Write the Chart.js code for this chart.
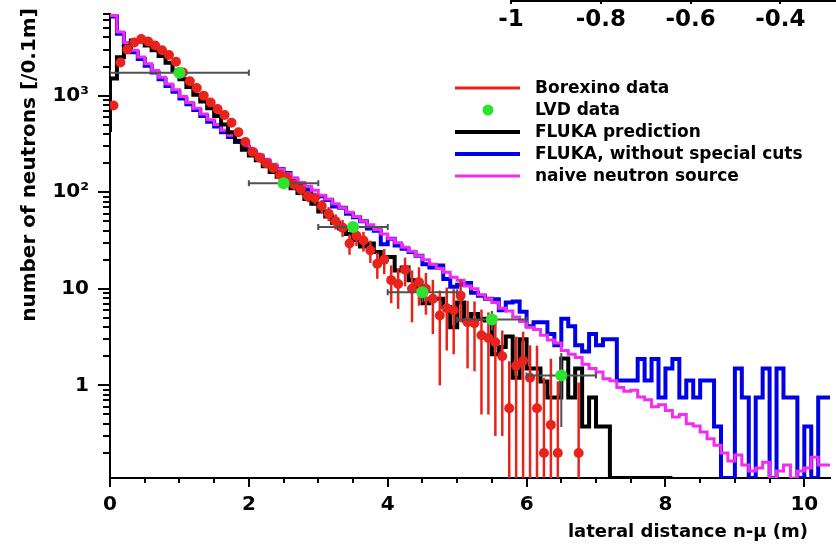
<!DOCTYPE html>
<html>
<head>
<meta charset="utf-8">
<script src="https://cdn.jsdelivr.net/npm/chart.js@4.4.0/dist/chart.umd.min.js"></script>
<style>
  html, body { margin: 0; padding: 0; background: #fff; }
  #wrap { position: relative; width: 836px; height: 546px; }
  #main, #top { position: absolute; left: 0; top: 0; }
</style>
</head>
<body>
<div id="wrap">
  <canvas id="main" width="836" height="546"></canvas>
  <canvas id="top" width="836" height="39"></canvas>
</div>
<script>
// histogram bins are 0.1 m wide, starting at 0
const binWidth = 0.1;

// FLUKA prediction (black), bins 0.0 .. 8.1
const flukaPrediction = [
  420, 1500, 2500, 3200, 3720, 3630, 3310, 2950, 2570, 2190,
  1820, 1480, 1230, 1020, 871, 741, 617, 501, 417, 339,
  275, 240, 214, 186, 162, 145, 126, 110, 98, 85,
  76, 63, 56, 48, 42, 37, 32, 27.5, 29.5, 24,
  21.4, 21.4, 15.5, 16.6, 12.3, 10.5, 7.1, 7.9, 7.9, 6.5,
  4.0, 7.2, 4.7, 5.5, 4.9, 4.7, 2.1, 2.5, 3.2, 1.2,
  3.0, 1.5, 1.5, 1.1, 0.75, 0.75, 1.9, 0.75, 1.5, 0.375,
  0.75, 0.375, 0.375, 0, 0, 0, 0, 0, 0, 0, 0
];

// FLUKA without special cuts (blue), bins 0.0 .. 10.4
const flukaNoCuts = [
  6310, 6610, 4365, 3390, 2820, 2400, 2040, 1740, 1480, 1260,
  1100, 933, 813, 708, 617, 537, 479, 417, 372, 331,
  295, 263, 234, 209, 186, 174, 158, 135, 123, 107,
  89, 91, 83, 71, 69, 60, 55, 50, 42, 40,
  29, 33, 28, 26, 24, 22, 18, 16.6, 17.4, 12.6,
  10.5, 11, 11.5, 9.1, 8.5, 7.9, 7.8, 6.0, 7.2, 7.4,
  5.8, 4.1, 4.5, 4.5, 3.4, 2.6, 4.9, 4.1, 2.6, 2.25,
  3.4, 2.6, 3.0, 3.0, 1.125, 1.125, 1.125, 1.875, 1.125, 1.875,
  0.75, 1.5, 1.875, 0.75, 1.125, 0.75, 1.125, 1.125, 0.375, 0,
  0, 1.5, 0.75, 0, 0.75, 1.5, 0, 1.5, 0.75, 0.75,
  0, 0.375, 0, 0.75
];

// naive neutron source (magenta), bins 0.0 .. 10.4
const naiveSource = [
  6600, 6760, 4570, 3550, 2950, 2510, 2140, 1820, 1550, 1320,
  1150, 977, 851, 741, 646, 562, 501, 437, 389, 347,
  309, 275, 245, 219, 195, 174, 155, 141, 126, 115,
  105, 93, 85, 76, 69, 62, 56, 50, 46, 41,
  37, 33, 30, 27, 24.5, 22, 20, 18, 16.2, 14.8,
  13.2, 12.3, 10.7, 10, 8.7, 7.9, 7.2, 6.3, 5.9, 5.1,
  4.6, 4.0, 3.8, 3.3, 2.95, 2.75, 2.3, 2.1, 1.95, 1.66,
  1.5, 1.38, 1.17, 1.12, 0.95, 0.87, 0.89, 0.76, 0.71, 0.6,
  0.63, 0.55, 0.47, 0.5, 0.4, 0.38, 0.33, 0.28, 0.24, 0.2,
  0.165, 0.19, 0.15, 0.13, 0.14, 0.16, 0, 0.13, 0.15, 0,
  0.13, 0.14, 0.18, 0.15
];

// Borexino data (red), one point per bin centre, 0.05 .. 6.75
const borexinoY = [
  790, 2200, 3000, 3550, 3850, 3630, 3300, 2950, 2630, 2240,
  1740, 1410, 1200, 1000, 850, 725, 630, 525, 417, 331,
  263, 229, 200, 178, 151, 141, 120, 107, 91, 87,
  72, 60, 50, 43, 29.5, 35.5, 31.6, 25, 18.2, 20,
  12.3, 11.2, 15.8, 10, 11.7, 10, 7.9, 5.3, 6.3, 6.0,
  8.5, 4.5, 4.4, 3.3, 3.1, 2.8, 2.0, 0.58, 1.6, 1.8,
  1.2, 0.58, 0.2, 0.39, 0.2, 0, 0, 0.2
];
const borexinoErr = [
  37, 61, 71, 77, 81, 78, 75, 71, 67, 62,
  54, 49, 45, 41, 38, 35, 32, 30, 26, 23,
  21, 20, 18, 17, 16, 15, 14, 13, 12, 12,
  11, 10, 9, 8.5, 7, 7.7, 7.3, 6.5, 5.5, 5.8,
  5.2, 5.0, 5.2, 5.5, 5.0, 4.6, 4.5, 4.3, 4.0, 3.9,
  4.0, 3.0, 3.0, 2.8, 2.6, 2.5, 1.7, 1.2, 1.6, 1.8,
  1.4, 2.0, 1.0, 1.5, 0.9, 0, 0, 0.87
];

// LVD data (green)
const lvdX = [1, 2.5, 3.5, 4.5, 5.5, 6.5];
const lvdY = [1730, 124, 43.7, 9.2, 4.8, 1.27];
const lvdXErr = [1, 0.5, 0.5, 0.5, 0.5, 0.5];
const lvdYErr = [60, 10, 4, 2, 1.1, 0.9];

// axes
const xTickValues = [0, 2, 4, 6, 8, 10];
const xTickLabels = ['0', '2', '4', '6', '8', '10'];
const yTickValues = [1, 10, 100, 1000];
const yTickLabels = ['1', '10', '10²', '10³'];
const topTickValues = [-1, -0.8, -0.6, -0.4];
const topTickLabels = ['-1', '-0.8', '-0.6', '-0.4'];

const X_MIN = 0, X_MAX = 10.37;
const Y_MIN = 0.11, Y_MAX = 7000;

const RED = '#e8231c';
const GREEN = '#2ee32e';
const BLUE = '#0000e8';
const MAGENTA = '#f22cf2';
const FONT = "'DejaVu Sans', sans-serif";

// empty bins are drawn on the bottom of the frame, like ROOT does
function histPoints(vals) {
  const pts = vals.map((v, i) => ({ x: i * binWidth, y: v > 0 ? v : Y_MIN }));
  pts.push({ x: vals.length * binWidth, y: pts[pts.length - 1].y });
  return pts;
}

const borexinoPts = [];
borexinoY.forEach((v, i) => {
  if (v > 0) borexinoPts.push({ x: binWidth * (i + 0.5), y: v });
});
const lvdPts = lvdX.map((x, i) => ({ x: x, y: lvdY[i] }));

const decor = {
  id: 'decor',
  beforeDatasetDraw(chart, args) {
    const ds = chart.data.datasets[args.index];
    const { ctx, chartArea: a } = chart;
    const xs = chart.scales.x, ys = chart.scales.y;
    ctx.save();
    ctx.beginPath();
    ctx.rect(a.left, a.top, a.right - a.left, a.bottom - a.top);
    ctx.clip();
    if (ds.label === 'Borexino data') {
      ctx.strokeStyle = RED;
      ctx.lineWidth = 2.5;
      borexinoY.forEach((v, i) => {
        if (!(v > 0)) return;
        const px = xs.getPixelForValue(binWidth * (i + 0.5));
        const lo = v - borexinoErr[i];
        const y1 = ys.getPixelForValue(v + borexinoErr[i]);
        const y2 = lo > 0 ? ys.getPixelForValue(lo) : a.bottom;
        ctx.beginPath();
        ctx.moveTo(px, y1);
        ctx.lineTo(px, y2);
        ctx.stroke();
      });
    }
    if (ds.label === 'LVD data') {
      ctx.strokeStyle = '#505050';
      ctx.lineWidth = 2;
      lvdX.forEach((xv, i) => {
        const px = xs.getPixelForValue(xv);
        const py = ys.getPixelForValue(lvdY[i]);
        const x1 = xs.getPixelForValue(xv - lvdXErr[i]);
        const x2 = xs.getPixelForValue(xv + lvdXErr[i]);
        ctx.beginPath();
        ctx.moveTo(x1, py); ctx.lineTo(x2, py);
        ctx.moveTo(x1, py - 3); ctx.lineTo(x1, py + 3);
        ctx.moveTo(x2, py - 3); ctx.lineTo(x2, py + 3);
        ctx.moveTo(px, ys.getPixelForValue(lvdY[i] + lvdYErr[i]));
        ctx.lineTo(px, ys.getPixelForValue(lvdY[i] - lvdYErr[i]));
        ctx.stroke();
      });
    }
    ctx.restore();
  },
  afterDraw(chart) {
    const { ctx, chartArea: a } = chart;
    const xs = chart.scales.x, ys = chart.scales.y;
    ctx.save();
    // tick marks
    ctx.strokeStyle = '#000';
    ctx.lineWidth = 2;
    ctx.beginPath();
    for (let d = -1; d <= 3; d++) {
      for (let k = 1; k <= 9; k++) {
        const v = k * Math.pow(10, d);
        if (v < Y_MIN || v > Y_MAX) continue;
        const py = Math.round(ys.getPixelForValue(v));
        const len = k === 1 ? 12 : 7;
        ctx.moveTo(a.left - len, py);
        ctx.lineTo(a.left, py);
      }
    }
    for (let v = 0; v <= X_MAX; v += 0.5) {
      const px = Math.round(xs.getPixelForValue(v));
      const len = v % 2 === 0 ? 9 : 5;
      ctx.moveTo(px, a.bottom);
      ctx.lineTo(px, a.bottom + len);
    }
    ctx.stroke();

    // axis titles
    ctx.fillStyle = '#000';
    ctx.font = 'bold 18px ' + FONT;
    ctx.textAlign = 'right';
    ctx.textBaseline = 'alphabetic';
    ctx.fillText('lateral distance n-\u03bc (m)', 808, 537);
    ctx.save();
    ctx.translate(35, 165);
    ctx.rotate(-Math.PI / 2);
    ctx.textAlign = 'center';
    ctx.font = 'bold 20px ' + FONT;
    ctx.fillText('number of neutrons [/0.1m]', 0, 0);
    ctx.restore();

    // legend
    ctx.save();
    ctx.beginPath();
    ctx.rect(430, 80, 400, 115);
    ctx.clip();
    const items = [
      { text: 'Borexino data', color: RED, w: 3 },
      { text: 'LVD data', color: GREEN, dot: true },
      { text: 'FLUKA prediction', color: '#000', w: 4 },
      { text: 'FLUKA, without special cuts', color: BLUE, w: 4 },
      { text: 'naive neutron source', color: MAGENTA, w: 3 }
    ];
    ctx.font = 'bold 17px ' + FONT;
    ctx.textAlign = 'left';
    ctx.textBaseline = 'middle';
    items.forEach((it, i) => {
      const cy = 88 + i * 22;
      if (it.dot) {
        ctx.fillStyle = it.color;
        ctx.beginPath();
        ctx.arc(488, cy, 5.5, 0, Math.PI * 2);
        ctx.fill();
      } else {
        ctx.strokeStyle = it.color;
        ctx.lineWidth = it.w;
        ctx.beginPath();
        ctx.moveTo(455, cy);
        ctx.lineTo(520, cy);
        ctx.stroke();
      }
      ctx.fillStyle = '#000';
      ctx.fillText(it.text, 535, cy + 1);
    });
    ctx.restore();
    ctx.restore();
  }
};

new Chart(document.getElementById('main'), {
  type: 'scatter',
  data: {
    datasets: [
      {
        label: 'LVD data',
        data: lvdPts,
        pointRadius: 6,
        pointBackgroundColor: GREEN,
        pointBorderWidth: 0,
        order: 0
      },
      {
        label: 'Borexino data',
        data: borexinoPts,
        pointRadius: 5,
        pointBackgroundColor: RED,
        pointBorderWidth: 0,
        order: 1
      },
      {
        label: 'FLUKA prediction',
        type: 'line',
        data: histPoints(flukaPrediction),
        stepped: 'after',
        borderColor: '#000',
        borderWidth: 4,
        pointRadius: 0,
        fill: false,
        order: 2
      },
      {
        label: 'naive neutron source',
        type: 'line',
        data: histPoints(naiveSource),
        stepped: 'after',
        borderColor: MAGENTA,
        borderWidth: 3,
        pointRadius: 0,
        fill: false,
        order: 3
      },
      {
        label: 'FLUKA, without special cuts',
        type: 'line',
        data: histPoints(flukaNoCuts),
        stepped: 'after',
        borderColor: BLUE,
        borderWidth: 4,
        pointRadius: 0,
        fill: false,
        order: 4
      }
    ]
  },
  options: {
    responsive: false,
    animation: false,
    layout: { padding: { top: 14, left: 0, right: 0, bottom: 0 } },
    plugins: {
      legend: { display: false },
      tooltip: { enabled: false }
    },
    scales: {
      x: {
        type: 'linear',
        min: X_MIN,
        max: X_MAX,
        afterBuildTicks: s => { s.ticks = xTickValues.map(v => ({ value: v })); },
        afterFit: s => { s.height = 68; s.paddingLeft = 0; s.paddingRight = 0; },
        grid: { display: false },
        border: { display: true, color: '#000', width: 2 },
        ticks: {
          autoSkip: false,
          maxRotation: 0,
          padding: 7,
          color: '#000',
          font: { family: FONT, size: 20, weight: 'bold' },
          callback: (v, i) => xTickLabels[i]
        }
      },
      y: {
        type: 'logarithmic',
        min: Y_MIN,
        max: Y_MAX,
        afterBuildTicks: s => { s.ticks = yTickValues.map(v => ({ value: v })); },
        afterFit: s => { s.width = 110; s.paddingTop = 0; s.paddingBottom = 0; },
        grid: { display: false },
        border: { display: true, color: '#000', width: 2 },
        ticks: {
          autoSkip: false,
          padding: 13,
          color: '#000',
          font: { family: FONT, size: 20, weight: 'bold' },
          callback: (v, i) => yTickLabels[i]
        }
      }
    }
  },
  plugins: [decor]
});

// piece of the neighbouring plot's axis at the top edge
new Chart(document.getElementById('top'), {
  type: 'scatter',
  data: { datasets: [] },
  options: {
    responsive: false,
    animation: false,
    layout: { padding: { left: 511, right: 0, top: 0, bottom: 0 } },
    plugins: { legend: { display: false }, tooltip: { enabled: false } },
    scales: {
      x: {
        type: 'linear',
        min: -1,
        max: -0.276,
        afterBuildTicks: s => { s.ticks = topTickValues.map(v => ({ value: v })); },
        afterFit: s => { s.height = 38; },
        grid: { display: true, drawOnChartArea: false, tickLength: 3, color: '#000', lineWidth: 2 },
        border: { display: true, color: '#000', width: 2 },
        ticks: {
          autoSkip: false,
          maxRotation: 0,
          padding: 2,
          color: '#000',
          font: { family: FONT, size: 23, weight: 'bold' },
          callback: (v, i) => topTickLabels[i]
        }
      },
      y: { display: false }
    }
  }
});
</script>
</body>
</html>
